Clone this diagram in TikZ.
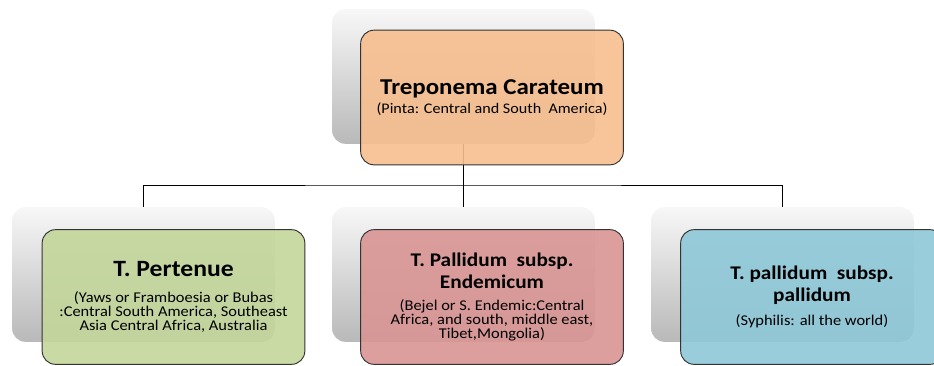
\documentclass[tikz,border=0pt]{standalone}
\usepackage{fontspec}
\setmainfont[FakeStretch=1.1]{Carlito}
\definecolor{carfill}{HTML}{F7BE8F}
\definecolor{perfill}{HTML}{C3D69B}
\definecolor{endfill}{HTML}{D99594}
\definecolor{palfill}{HTML}{8EC8D8}
\newcommand{\ttl}[2][14.5]{{\bfseries\fontsize{#1}{10.5}\selectfont #2}}
\newcommand{\sub}[2][11.2]{{\fontsize{#1}{10.5}\selectfont #2}}
\tikzset{
  shadowbox/.style={rounded corners=10pt, minimum width=197pt, minimum height=101pt,
    top color=gray!6, middle color=gray!12, bottom color=gray!55},
  frontbox/.style={draw=black!80, line width=0.7pt, rounded corners=10pt,
    minimum width=197pt, minimum height=101pt, align=center,
    font=\fontsize{11}{10.5}\selectfont, fill opacity=0.9, text opacity=1},
  link/.style={draw=black, line width=0.75pt}
}
\begin{document}
\begin{tikzpicture}[x=0.75pt, y=-0.75pt]
    \clip (0,0) rectangle (934,365);

    % grey boxes behind
    \node [shadowbox] (shCar) at (463.5, 76.5) {};
    \node [shadowbox] (shPer) at (143.5, 274.5) {};
    \node [shadowbox] (shEnd) at (463.5, 274.5) {};
    \node [shadowbox] (shPal) at (782.5, 274.5) {};

    \coordinate (jn) at (463.5, 185);
    \draw [link] (shCar.south) -- (jn);
    \draw [link] (shPer.north) |- (jn) -| (shPal.north);
    \draw [link] (jn) -- (shEnd.north);

    \node [frontbox, fill=carfill] (car) at (492, 97.5)
        {\ttl[17]{Treponema Carateum}\\[2.5pt] \sub[11]{(Pinta: Central and South\ \ America)}};
    \node [frontbox, fill=perfill] (per) at (173.5, 297)
        {\ttl[17.5]{T. Pertenue}\\[9pt] \sub{(Yaws or Framboesia or Bubas}\\ \sub{:Central South America, Southeast}\\ \sub{Asia Central Africa, Australia}};
    \node [frontbox, fill=endfill] (end) at (492, 297)
        {\ttl{T. Pallidum\ \ subsp.}\\[3pt] \ttl{Endemicum}\\[6pt] \sub{(Bejel or S. Endemic:Central}\\ \sub{Africa, and south,\ middle east,}\\ \sub{Tibet,Mongolia)}};
    \node [frontbox, fill=palfill] (pal) at (812, 297)
        {\ttl{T. pallidum\ \ subsp.}\\[3pt] \ttl{pallidum}\\[8pt] \sub{(Syphilis: all the world)}};
\end{tikzpicture}
\end{document}
